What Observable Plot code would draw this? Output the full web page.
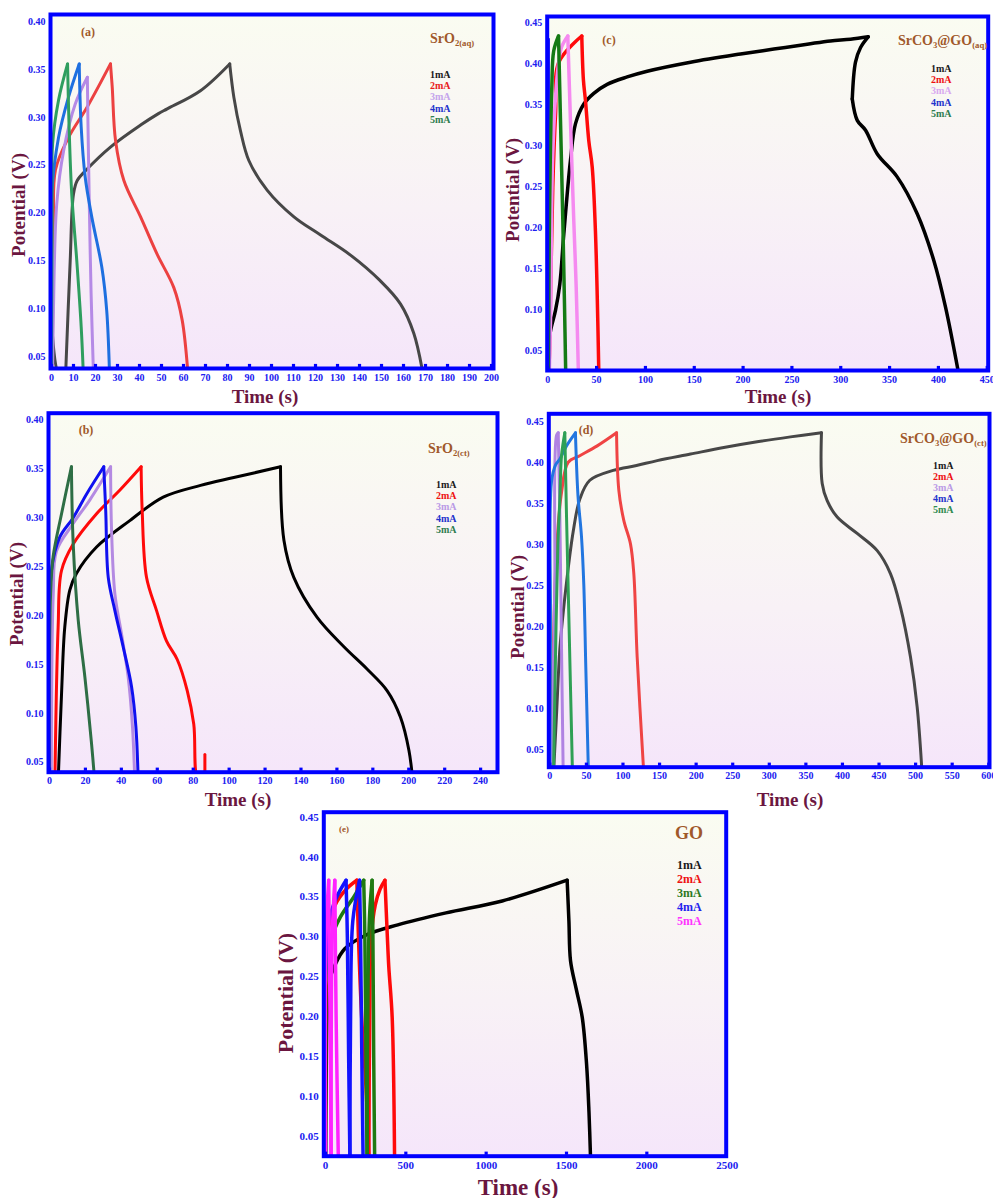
<!DOCTYPE html>
<html><head><meta charset="utf-8">
<script src="https://cdn.jsdelivr.net/npm/d3@7"></script>
<script src="https://cdn.jsdelivr.net/npm/@observablehq/plot@0.6"></script>
<style>
body{margin:0;background:#fff;width:993px;height:1198px;position:relative;overflow:hidden;font-family:"Liberation Serif","Times New Roman",serif;}
.panel{position:absolute;}
.panel svg{background:transparent !important;overflow:visible;}
.lbl{position:absolute;font-weight:bold;white-space:nowrap;line-height:1;}
.lbl sub{font-size:0.62em;vertical-align:-0.35em;}
</style></head><body>
<script>
// ---------- categories ----------
const currents = ["1mA","2mA","3mA","4mA","5mA"];

// ---------- tick labels ----------
const xTicksA = [0,10,20,30,40,50,60,70,80,90,100,110,120,130,140,150,160,170,180,190,200];
const yTicksA = [0.05,0.10,0.15,0.20,0.25,0.30,0.35,0.40];
const xTicksB = [0,20,40,60,80,100,120,140,160,180,200,220,240];
const yTicksB = [0.05,0.10,0.15,0.20,0.25,0.30,0.35,0.40];
const xTicksC = [0,50,100,150,200,250,300,350,400,450];
const yTicksC = [0.05,0.10,0.15,0.20,0.25,0.30,0.35,0.40,0.45];
const xTicksD = [0,50,100,150,200,250,300,350,400,450,500,550,600];
const yTicksD = [0.05,0.10,0.15,0.20,0.25,0.30,0.35,0.40,0.45];
const xTicksE = [0,500,1000,1500,2000,2500];
const yTicksE = [0.05,0.10,0.15,0.20,0.25,0.30,0.35,0.40,0.45];

// ---------- series: [time (s), potential (V)] ----------
// (a) SrO2(aq)
const a1mA = [[0,0.09],[3.5,0.03],[6.4,0.03],[8.5,0.15],[10,0.22],[11.7,0.234],[16.2,0.246],[26.8,0.269],[40.5,0.292],[48.6,0.304],[52.6,0.309],[67.7,0.328],[81,0.356],[82.9,0.321],[85.9,0.286],[89.7,0.255],[98,0.224],[110.2,0.196],[122.3,0.177],[135.9,0.156],[149.5,0.129],[158.6,0.105],[164.7,0.074],[169,0.03]];
const a2mA = [[0.3,0.03],[1,0.178],[1.8,0.245],[7.5,0.278],[16.5,0.312],[26.8,0.356],[27.6,0.332],[29.1,0.276],[32.9,0.234],[40.5,0.196],[48,0.157],[55.6,0.122],[59.4,0.088],[62.1,0.03]];
const a3mA = [[0.5,0.03],[0.9,0.1],[2.4,0.21],[5.5,0.265],[10.8,0.314],[16.3,0.342],[16.6,0.29],[17.1,0.22],[18,0.116],[19.1,0.03]];
const a4mA = [[0,0.03],[0.1,0.22],[3.2,0.279],[7.7,0.321],[12.6,0.356],[13.5,0.29],[15.3,0.238],[18.3,0.196],[22.9,0.143],[25.1,0.098],[26.4,0.03]];
const a5mA = [[0,0.03],[0.3,0.2],[0.5,0.272],[3.2,0.318],[7.3,0.356],[8,0.29],[9.2,0.22],[11.5,0.15],[13.5,0.081],[14.5,0.03]];

// (b) SrO2(ct)
const b1mA = [[4.8,0.03],[6.7,0.12],[8.5,0.188],[11.3,0.226],[15,0.243],[26.2,0.27],[44.7,0.297],[63.3,0.321],[84.1,0.333],[102.6,0.341],[128.6,0.352],[130.5,0.277],[136,0.239],[149,0.198],[163.9,0.168],[176.9,0.145],[188,0.123],[195.4,0.096],[200.1,0.062],[202.3,0.03]];
const b2mA = [[3,0.03],[4.8,0.188],[6.7,0.246],[13.2,0.273],[26.2,0.304],[39.1,0.328],[51,0.352],[51.6,0.307],[54,0.239],[59.6,0.205],[65.1,0.174],[71.1,0.155],[76.7,0.123],[80.3,0.089],[82.8,0.03],[86.5,0.03],[86.5,0.058]];
const b3mA = [[1,0.03],[2.1,0.222],[3.9,0.266],[13.2,0.294],[22.4,0.318],[34,0.352],[34.5,0.29],[36.4,0.222],[40.1,0.181],[43.8,0.137],[46.2,0.086],[47.5,0.03]];
const b4mA = [[0,0.03],[1.1,0.246],[5.7,0.28],[13.2,0.3],[20.6,0.324],[30.2,0.352],[31.3,0.307],[32.7,0.239],[36.4,0.205],[41,0.168],[45.7,0.127],[48.1,0.086],[49.4,0.03]];
const b5mA = [[-0.2,0.03],[0.6,0.222],[2,0.26],[6.7,0.304],[12.2,0.352],[13.2,0.273],[16,0.195],[19.7,0.137],[23.4,0.069],[25.2,0.03]];

// (c) SrCO3@GO(aq)
const c1mA = [[0,0.045],[2.8,0.074],[7.9,0.099],[12.3,0.131],[16.4,0.192],[23.2,0.282],[28.4,0.327],[36.9,0.351],[47.1,0.364],[60.8,0.375],[81.3,0.384],[101.8,0.391],[146.2,0.402],[197.4,0.412],[231.5,0.418],[265.7,0.424],[289.5,0.428],[310,0.43],[328.1,0.433],[320.3,0.42],[315.1,0.402],[311.8,0.357],[316.9,0.331],[325.4,0.319],[337.4,0.29],[357.8,0.262],[378.3,0.217],[395.3,0.16],[407.3,0.103],[421,0.02]];
const c2mA = [[1,0.02],[1.7,0.046],[5.1,0.249],[8,0.34],[11.3,0.402],[34.8,0.434],[36.5,0.38],[38.6,0.355],[42,0.306],[45.5,0.274],[48.9,0.192],[52.3,0.02]];
const c3mA = [[1.5,0.02],[2.8,0.087],[5.1,0.29],[10.2,0.392],[14,0.42],[20.5,0.434],[23.2,0.331],[26.6,0.209],[29.1,0.127],[31.4,0.02]];
const c4mA = [[-0.5,0.02],[0.2,0.43],[0.9,0.02]];
const c5mA = [[0.5,0.02],[1.7,0.209],[4.1,0.371],[6.1,0.416],[11,0.434],[13,0.331],[15.4,0.209],[17.1,0.107],[18.4,0.02]];

// (d) SrCO3@GO(ct)
const d1mA = [[5,0.02],[9,0.09],[13.7,0.173],[18,0.215],[22.8,0.254],[31.9,0.316],[41,0.356],[54.7,0.379],[86.6,0.391],[118.5,0.397],[146.8,0.403],[192.3,0.411],[237.8,0.419],[283.4,0.426],[329,0.432],[371.3,0.437],[372.3,0.375],[379.1,0.354],[392.8,0.334],[420.1,0.314],[447.5,0.293],[465.6,0.265],[479.3,0.224],[493,0.163],[502.1,0.102],[508.9,0.02]];
const d2mA = [[0.5,0.02],[1,0.081],[4.6,0.173],[9.2,0.295],[16,0.364],[25.1,0.401],[41,0.409],[64.8,0.421],[91.2,0.437],[94.3,0.367],[101.1,0.33],[110.3,0.301],[114.8,0.265],[119.4,0.163],[128.5,0.02]];
const d3mA = [[3,0.02],[5,0.15],[6.8,0.254],[9.2,0.434],[11.5,0.437],[13.7,0.336],[16,0.173],[18.3,0.02]];
const d4mA = [[0,0.02],[1,0.2],[2.3,0.377],[8,0.398],[13.7,0.405],[22.8,0.421],[35,0.437],[38.5,0.36],[43.3,0.31],[46.5,0.25],[49.2,0.15],[52.8,0.02]];
const d5mA = [[5,0.02],[8.5,0.2],[11,0.3],[13.7,0.356],[16,0.409],[20.5,0.437],[22.8,0.336],[26.5,0.193],[31,0.02]];

// (e) GO
const e1mA = [[0,0.02],[4,0.12],[10,0.2],[25,0.245],[60,0.265],[120,0.285],[250,0.302],[450,0.315],[750,0.33],[1100,0.345],[1504,0.371],[1515,0.32],[1525,0.27],[1560,0.235],[1598,0.199],[1625,0.14],[1640,0.08],[1650,0.02]];
const e2mA = [[0,0.02],[3,0.25],[10,0.3],[60,0.34],[130,0.36],[195,0.371],[205,0.3],[225,0.2],[255,0.1],[270,0.02],[275,0.2],[285,0.3],[310,0.34],[340,0.36],[370,0.371],[385,0.3],[394,0.262],[415,0.199],[430,0.02]];
const e3mA = [[0,0.02],[2,0.2],[5,0.262],[31,0.295],[93,0.325],[176,0.35],[238,0.371],[245,0.3],[252,0.15],[259,0.02],[265,0.25],[275,0.33],[290,0.371],[295,0.3],[300,0.15],[306,0.02]];
const e4mA = [[0,0.02],[3,0.28],[20,0.32],[70,0.35],[128,0.371],[136,0.3],[144,0.15],[152,0.02],[156,0.2],[170,0.32],[212,0.371],[218,0.3],[226,0.15],[234,0.02]];
const e5mA = [[0,0.02],[3,0.3],[20,0.371],[28,0.2],[35,0.02],[42,0.3],[58,0.371],[66,0.2],[80,0.02]];

// ---------- layout & style ----------
const BLUE = "#0000ff", TICKBLUE = "#2020f0", TITLE = "#6b1640", BROWN = "#a0582a";
const panels = [
  {id:"a", box:[0,0,500,410], m:[14,7,42,50], xd:[-0.45,200.9], yd:[0.0374,0.4077], xt:xTicksA, yt:yTicksA,
   series:[a1mA,a2mA,a3mA,a4mA,a5mA], sw:3,
   colors:["#474747","#ec4141","#b58ae6","#1e6fe0","#2f9e5f"],
   legColors:["#1a1a1a","#e82020","#c4a4ec","#2233cc","#2e7d4f"],
   tag:[88,32,12], mat:["SrO<sub>2(aq)</sub>",430,40,14], leg:[430,75,11.2,10], ytitle:[18,205,19], xtitle:[265,396,19]},
  {id:"b", box:[0,400,500,410], m:[12.7,3,38.3,48], xd:[-0.56,249.4], yd:[0.0398,0.4068], xt:xTicksB, yt:yTicksB,
   series:[b1mA,b2mA,b3mA,b4mA,b5mA], sw:3,
   colors:["#000000","#ff0a0a","#b48ae2","#1010f0","#2e6e45"],
   legColors:["#1a1a1a","#ee1111","#b99ae6","#2233cc","#2e7d4f"],
   tag:[86,430,12], mat:["SrO<sub>2(ct)</sub>",428,450,14], leg:[436,485,11.2,10], ytitle:[16,594,19], xtitle:[238,799,19]},
  {id:"c", box:[493,0,500,410], m:[16,5.3,40,53.7], xd:[-0.6,451], yd:[0.0256,0.4578], xt:xTicksC, yt:yTicksC,
   series:[c1mA,c2mA,c3mA,c4mA,c5mA], sw:3.5,
   colors:["#000000","#ff0a0a","#f58af0","#1010f0","#157a15"],
   legColors:["#1a1a1a","#ee1111","#d8a8f0","#2233cc","#2e7d4f"],
   tag:[609,40,12], mat:["SrCO<sub>3</sub>@GO<sub>(aq)</sub>",898,42,14], leg:[931,69,11.2,10], ytitle:[512,190,19], xtitle:[778,396,19]},
  {id:"d", box:[493,400,500,410], m:[13.3,4,43.3,55.3], xd:[-1.4,601], yd:[0.0284,0.4602], xt:xTicksD, yt:yTicksD,
   series:[d1mA,d2mA,d3mA,d4mA,d5mA], sw:3,
   colors:["#474747","#ef4444","#b083e2","#2276e0","#2fa055"],
   legColors:["#1a1a1a","#ee1111","#b99ae6","#2233cc","#2e8a4f"],
   tag:[586,430,12], mat:["SrCO<sub>3</sub>@GO<sub>(ct)</sub>",900,440,14], leg:[933,466,11,10], ytitle:[517,607,19], xtitle:[790,799,19]},
  {id:"e", box:[270,800,470,398], m:[11.7,14.3,42.3,53.3], xd:[-10.6,2494], yd:[0.0249,0.4563], xt:xTicksE, yt:yTicksE,
   series:[e1mA,e2mA,e3mA,e4mA,e5mA], sw:3.5,
   colors:["#000000","#ff0a0a","#1f7a12","#1212ff","#ff22ff"],
   legColors:["#1a1a1a","#ee1111","#2e7a1e","#2222ee","#ff33ff"],
   tag:[344,829,9], mat:["GO",675,833,18], leg:[677,865,14,12], ytitle:[286,993,22], xtitle:[518,1187,23]}
];

function addLabel(html, x, y, size, color, anchor, rotate) {
  const el = document.createElement("div");
  el.className = "lbl";
  el.innerHTML = html;
  el.style.left = x + "px";
  el.style.top = y + "px";
  el.style.fontSize = size + "px";
  el.style.color = color;
  const tx = anchor === "middle" ? "-50%" : "0";
  el.style.transform = rotate ? `translate(-50%,-50%) rotate(${rotate}deg)` : `translate(${tx},-50%)`;
  document.body.appendChild(el);
}

// split a series into monotone pieces (at charge/discharge turning points) so corners stay sharp
function pieces(series, current) {
  const out = [];
  let seg = 0, sv = 0, st = 0;
  series.forEach(([t, v], i) => {
    if (i > 0) {
      const [pt, pv] = series[i - 1];
      const dv = Math.sign(v - pv), dt = Math.sign(t - pt);
      if ((dv && sv && dv !== sv) || (dt && st && dt !== st)) {
        seg++;
        out.push({t: pt, v: pv, current, key: current + "-" + seg});
      }
      if (dv) sv = dv;
      if (dt) st = dt;
    }
    out.push({t, v, current, key: current + "-" + seg});
  });
  return out;
}

for (const p of panels) {
  const rows = [];
  p.series.forEach((s, i) => rows.push(...pieces(s, currents[i])));
  const [left, top, width, height] = p.box;
  const [mT, mR, mB, mL] = p.m;
  const svg = Plot.plot({
    width, height,
    marginTop: mT, marginRight: mR, marginBottom: mB, marginLeft: mL,
    style: {background: "transparent", color: TICKBLUE, fontFamily: "'Liberation Serif', serif", fontWeight: "bold", fontSize: p.id === "e" ? "11px" : "10px"},
    x: {domain: p.xd, ticks: p.xt, tickSize: 0, tickPadding: 5, tickFormat: d => String(d), label: null},
    y: {domain: p.yd, ticks: p.yt, tickSize: 0, tickPadding: 5, tickFormat: ".2f", label: null},
    color: {domain: currents, range: p.colors},
    marks: [
      Plot.frame({fill: `url(#bg-${p.id})`}),
      Plot.line(rows, {x: "t", y: "v", z: "key", stroke: "current", strokeWidth: p.sw, clip: true, strokeLinejoin: "round", strokeLinecap: "round", curve: "catmull-rom"}),
      Plot.frame({stroke: BLUE, strokeWidth: 4}),
      Plot.dot(p.xt.filter(d => d > p.xd[0] && d < p.xd[1]), {x: d => d, frameAnchor: "bottom", dy: -3, symbol: "square", r: 1.8, fill: BLUE})
    ]
  });
  const defs = d3.create("svg:defs");
  const g = defs.append("linearGradient").attr("id", `bg-${p.id}`).attr("x1", 0).attr("y1", 0).attr("x2", 0).attr("y2", 1);
  g.append("stop").attr("offset", "0%").attr("stop-color", "#fafcf1");
  g.append("stop").attr("offset", "55%").attr("stop-color", "#f8f1f6");
  g.append("stop").attr("offset", "100%").attr("stop-color", "#f5e6fa");
  svg.insertBefore(defs.node(), svg.firstChild);
  const wrap = document.createElement("div");
  wrap.className = "panel";
  wrap.style.left = left + "px";
  wrap.style.top = top + "px";
  wrap.appendChild(svg);
  document.body.appendChild(wrap);

  // annotations
  addLabel(`(${p.id})`, p.tag[0], p.tag[1], p.tag[2], BROWN, "middle");
  addLabel(p.mat[0], p.mat[1], p.mat[2], p.mat[3], BROWN, "start");
  currents.forEach((c, i) => addLabel(c, p.leg[0], p.leg[1] + i * p.leg[2], p.leg[3], p.legColors[i], "start"));
  addLabel("Potential (V)", p.ytitle[0], p.ytitle[1], p.ytitle[2], TITLE, "middle", -90);
  addLabel("Time (s)", p.xtitle[0], p.xtitle[1], p.xtitle[2], TITLE, "middle");
}
</script>
</body></html>
